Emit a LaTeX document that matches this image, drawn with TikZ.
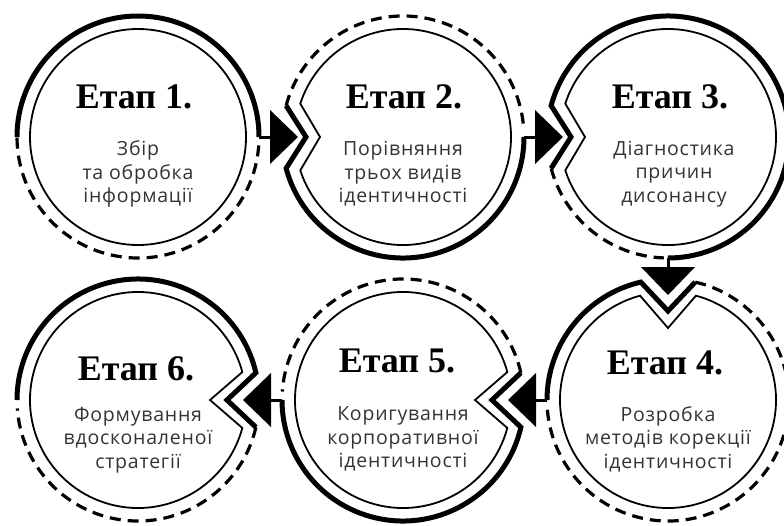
\documentclass[tikz,border=0pt]{standalone}
\usepackage{fontspec}
\setmainfont{Liberation Serif}
\newfontfamily\subfont[LetterSpace=4]{Open Sans}
\usetikzlibrary{calc}
\begin{document}
\begin{tikzpicture}[x=1pt,y=-1pt,
  thickring/.style={line width=5pt, line join=miter},
  dashring/.style={line width=3.2pt, dash pattern=on 11pt off 7pt},
  innerring/.style={line width=1.8pt, line join=miter},
  link/.style={line width=3pt},
  head/.style={fill=black},
  titletext/.style={font=\fontsize{36}{36}\selectfont\bfseries},
  subtext/.style={font=\fontsize{19.5}{23.5}\selectfont\subfont, text=black!80, align=center}]
\useasboundingbox (0,0) rectangle (784,525);
\clip (0,0) rectangle (784,525);
% centres
\coordinate (c1) at (138,137);
\coordinate (c2) at (403,137);
\coordinate (c3) at (668,137);
\coordinate (c4) at (668,400);
\coordinate (c5) at (403,400);
\coordinate (c6) at (138,400);

% ---------- circle 1
\draw[thickring] ([shift={(180:121)}]c1) arc[start angle=180,end angle=360,radius=121];
\draw[dashring] ([shift={(4:121)}]c1) arc[start angle=4,end angle=180,radius=121];
\draw[innerring] (c1) circle[radius=108];

% ---------- circle 2 (notch left)
\coordinate (c2ou) at ([shift={(195:121)}]c2);
\coordinate (c2ol) at ([shift={(165:121)}]c2);
\coordinate (c2oa) at ([shift={(180:97)}]c2);
\draw[dashring] (c2ou) arc[start angle=195,end angle=356,radius=121];
\draw[thickring] (c2ou) -- (c2oa) -- (c2ol) arc[start angle=165,end angle=0,radius=121];
\draw[innerring] ([shift={(198:108)}]c2) -- ([shift={(180:83)}]c2) -- ([shift={(162:108)}]c2)
  arc[start angle=162,end angle=-162,radius=108] -- cycle;

% ---------- circle 3 (notch left)
\coordinate (c3ou) at ([shift={(195:121)}]c3);
\coordinate (c3ol) at ([shift={(165:121)}]c3);
\coordinate (c3oa) at ([shift={(180:97)}]c3);
\draw[dashring] (c3ol) arc[start angle=165,end angle=92,radius=121];
\draw[thickring] (c3ol) -- (c3oa) -- (c3ou) arc[start angle=195,end angle=450,radius=121];
\draw[innerring] ([shift={(198:108)}]c3) -- ([shift={(180:83)}]c3) -- ([shift={(162:108)}]c3)
  arc[start angle=162,end angle=-162,radius=108] -- cycle;

% ---------- circle 4 (notch top)
\coordinate (c4or) at ([shift={(283:121)}]c4);
\coordinate (c4ol) at ([shift={(257:121)}]c4);
\coordinate (c4oa) at ([shift={(270:89)}]c4);
\draw[dashring] (c4or) arc[start angle=283,end angle=536,radius=121];
\draw[thickring] (c4or) -- (c4oa) -- (c4ol) arc[start angle=257,end angle=180,radius=121];
\draw[innerring] ([shift={(285:108)}]c4) -- ([shift={(270:72)}]c4) -- ([shift={(255:108)}]c4)
  arc[start angle=255,end angle=-75,radius=108] -- cycle;

% ---------- circle 5 (notch right)
\coordinate (c5ou) at ([shift={(-13:121)}]c5);
\coordinate (c5ol) at ([shift={(13:121)}]c5);
\coordinate (c5oa) at ([shift={(0:89)}]c5);
\draw[dashring] (c5ou) arc[start angle=-13,end angle=-176,radius=121];
\draw[thickring] (c5ou) -- (c5oa) -- (c5ol) arc[start angle=13,end angle=180,radius=121];
\draw[innerring] ([shift={(-15:108)}]c5) -- ([shift={(0:72)}]c5) -- ([shift={(15:108)}]c5)
  arc[start angle=15,end angle=345,radius=108] -- cycle;

% ---------- circle 6 (notch right)
\coordinate (c6ou) at ([shift={(-13:121)}]c6);
\coordinate (c6ol) at ([shift={(13:121)}]c6);
\coordinate (c6oa) at ([shift={(0:89)}]c6);
\draw[thickring] (c6ol) -- (c6oa) -- (c6ou) arc[start angle=-13,end angle=-180,radius=121];
\draw[dashring] (c6ol) arc[start angle=13,end angle=176,radius=121];
\draw[innerring] ([shift={(-15:108)}]c6) -- ([shift={(0:72)}]c6) -- ([shift={(15:108)}]c6)
  arc[start angle=15,end angle=345,radius=108] -- cycle;

% ---------- connectors and arrow heads
% 1 -> 2
\coordinate (e1) at ([shift={(0:121)}]c1);
\coordinate (h2b) at ([shift={(180:133)}]c2);
\coordinate (h2a) at ([shift={(180:105)}]c2);
\draw[link] (e1) -- (h2b);
\fill[head] (h2a) -- ($(h2b)+(0,-27)$) -- ($(h2b)+(0,27)$) -- cycle;
% 2 -> 3
\coordinate (e2) at ([shift={(0:121)}]c2);
\coordinate (h3b) at ([shift={(180:133)}]c3);
\coordinate (h3a) at ([shift={(180:105)}]c3);
\draw[link] (e2) -- (h3b);
\fill[head] (h3a) -- ($(h3b)+(0,-27)$) -- ($(h3b)+(0,27)$) -- cycle;
% 3 -> 4
\coordinate (e3) at ([shift={(90:121)}]c3);
\coordinate (h4b) at ([shift={(270:133)}]c4);
\coordinate (h4a) at ([shift={(270:105)}]c4);
\draw[link] (e3) -- (h4b);
\fill[head] (h4a) -- ($(h4b)+(-27,0)$) -- ($(h4b)+(27,0)$) -- cycle;
% 4 -> 5
\coordinate (e4) at ([shift={(180:121)}]c4);
\coordinate (h5b) at ([shift={(0:133)}]c5);
\coordinate (h5a) at ([shift={(0:105)}]c5);
\draw[link] (e4) -- (h5b);
\fill[head] (h5a) -- ($(h5b)+(0,-27)$) -- ($(h5b)+(0,27)$) -- cycle;
% 5 -> 6
\coordinate (e5) at ([shift={(180:121)}]c5);
\coordinate (h6b) at ([shift={(0:133)}]c6);
\coordinate (h6a) at ([shift={(0:105)}]c6);
\draw[link] (e5) -- (h6b);
\fill[head] (h6a) -- ($(h6b)+(0,-27)$) -- ($(h6b)+(0,27)$) -- cycle;

% ---------- texts
\node[titletext] (t1) at ($(c1)+(-4,-40)$) {Етап 1.};
\node[subtext] (s1) at ($(c1)+(0,37)$) {Збір\\та обробка\\інформації};
\node[titletext] (t2) at ($(c2)+(1,-40)$) {Етап 2.};
\node[subtext] (s2) at ($(c2)+(0,37)$) {Порівняння\\трьох видів\\ідентичності};
\node[titletext] (t3) at ($(c3)+(2,-40)$) {Етап 3.};
\node[subtext] (s3) at ($(c3)+(6,37)$) {Діагностика\\причин\\дисонансу};
\node[titletext] (t4) at ($(c4)+(-3,-37)$) {Етап 4.};
\node[subtext] (s4) at ($(c4)+(0,39)$) {Розробка\\методів корекції\\ідентичності};
\node[titletext] (t5) at ($(c5)+(-6,-39)$) {Етап 5.};
\node[subtext] (s5) at ($(c5)+(0,39)$) {Коригування\\корпоративної\\ідентичності};
\node[titletext] (t6) at ($(c6)+(-2,-31)$) {Етап 6.};
\node[subtext] (s6) at ($(c6)+(0,40)$) {Формування\\вдосконаленої\\стратегії};
\end{tikzpicture}
\end{document}
